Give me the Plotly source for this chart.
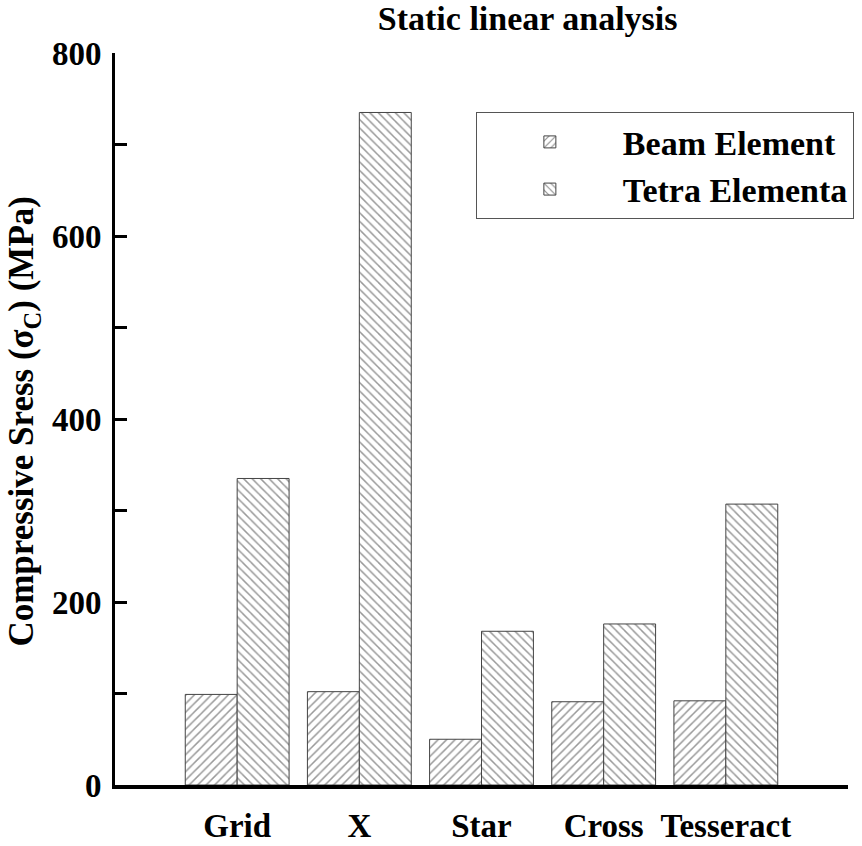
import plotly.graph_objects as go

categories = ["Grid", "X", "Star", "Cross", "Tesseract"]
beam_element = [99, 102, 50, 91, 92]
tetra_element = [335, 735, 168, 176, 307]
series_names = ["Beam Element", "Tetra Elementa"]
y_ticks = [0, 200, 400, 600, 800]
y_title = "Compressive Sress (σ<sub>C</sub>) (MPa)"

FONT = "Liberation Serif"
FS = 33

fig = go.Figure()
fig.add_trace(go.Bar(
    x=categories, y=beam_element, name=series_names[0],
    marker=dict(color="white", line=dict(color="#444444", width=1),
                pattern=dict(shape="/", fgcolor="#333333", bgcolor="white", size=6, solidity=0.25)),
))
fig.add_trace(go.Bar(
    x=categories, y=tetra_element, name=series_names[1],
    marker=dict(color="white", line=dict(color="#444444", width=1),
                pattern=dict(shape="\\", fgcolor="#333333", bgcolor="white", size=6, solidity=0.25)),
))

fig.update_layout(
    width=862, height=846,
    margin=dict(l=115, r=14, t=53, b=61, autoexpand=False),
    paper_bgcolor="white", plot_bgcolor="white",
    barmode="group", bargap=0.15, bargroupgap=0,
    font=dict(family=FONT, size=FS, color="black", weight="bold"),
    title=dict(text="Static linear analysis", x=0.563, xref="paper", xanchor="center",
               y=1.0, yref="container", yanchor="top", pad=dict(t=6),
               font=dict(family=FONT, size=34, color="black", weight="bold")),
    showlegend=True,
    legend=dict(x=1.008, xanchor="right", y=0.919, yanchor="top",
                bordercolor="#555555", borderwidth=1, bgcolor="white",
                font=dict(family=FONT, size=34, color="black", weight="bold"),
                itemwidth=136, tracegroupgap=0),
    annotations=[dict(text=y_title, textangle=-90, xref="paper", yref="paper",
                      x=-0.125, y=0.497, xanchor="center", yanchor="middle", showarrow=False,
                      font=dict(family=FONT, size=35, color="black", weight="bold"))],
)

fig.update_xaxes(
    type="category", range=[-1, 5], showline=True, linecolor="black", linewidth=4,
    ticks="", showgrid=False, zeroline=False, ticklabelstandoff=8, automargin=False,
    tickfont=dict(family=FONT, size=33, color="black", weight="bold"),
)
fig.update_yaxes(
    range=[0, 800], tickvals=y_ticks, showline=True, linecolor="black", linewidth=3,
    ticks="inside", ticklen=12, tickwidth=3, tickcolor="black", automargin=False,
    minor=dict(dtick=100, ticks="inside", ticklen=12, tickwidth=3, tickcolor="black", showgrid=False),
    showgrid=False, zeroline=False, ticklabelstandoff=4,
    tickfont=dict(family=FONT, size=FS, color="black", weight="bold"),
)

# remove the browser's default 8px page margin so the figure fills the window
fig.write_html("out.html", config={"displayModeBar": False},
               post_script="document.body.style.margin='0';")
